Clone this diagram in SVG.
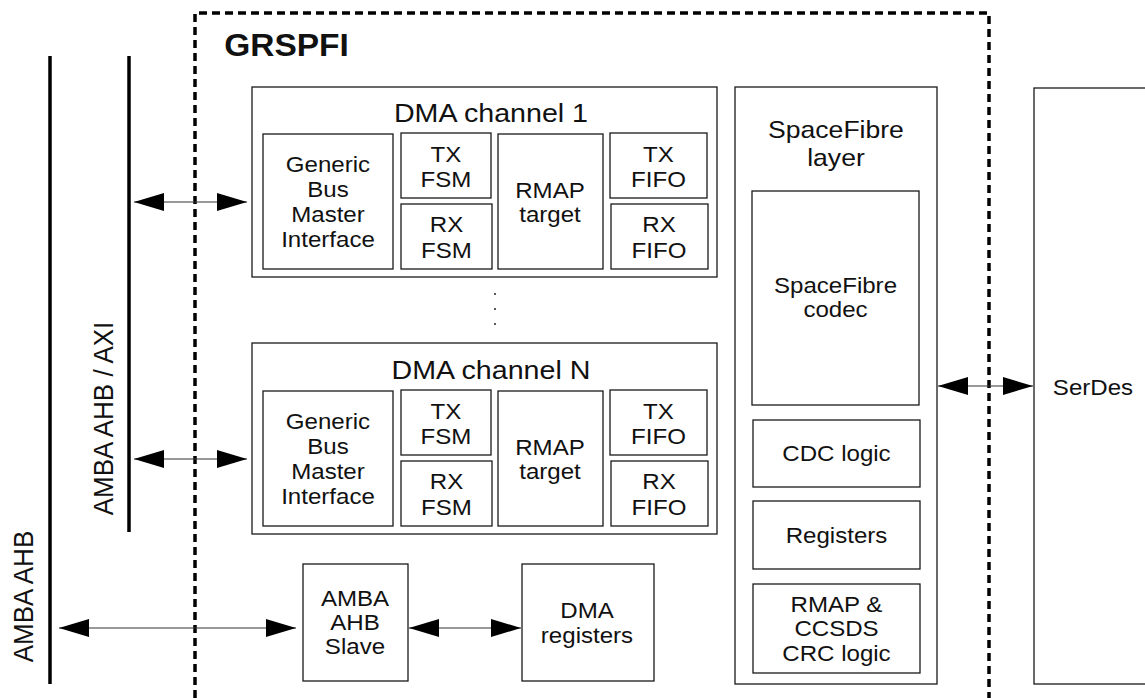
<svg xmlns="http://www.w3.org/2000/svg" width="1145" height="698" viewBox="0 0 1145 698">
<style>
.box { fill: #fff; stroke: #1a1a1a; stroke-width: 1.3; }
.t { font-family: "Liberation Sans", Arial, sans-serif; font-size: 22.3px; text-anchor: middle; fill: #111; transform-box: fill-box; transform-origin: center; transform: scaleX(1.08); }
.title { font-size: 26.5px; }
.sft { font-size: 24.6px; }
.bold { font-weight: bold; font-size: 31px; }
.rt { font-family: "Liberation Sans", Arial, sans-serif; font-size: 26px; text-anchor: middle; fill: #111; }
.bus { stroke: #000; stroke-width: 3.5; fill: none; }
.border { stroke: #000; stroke-width: 3.5; fill: none; stroke-dasharray: 8 5; }
.conn { stroke: #333; stroke-width: 1.2; fill: none; marker-start: url(#ah); marker-end: url(#ah); }
.dot { fill: #222; }
</style>
<defs>
<marker id="ah" markerUnits="userSpaceOnUse" markerWidth="30" markerHeight="18" refX="30" refY="9" orient="auto-start-reverse" viewBox="0 0 30 18">
<path d="M0,0 L30,9 L0,18 z" fill="#000"/>
</marker>
</defs>
<rect width="1145" height="698" fill="#fff"/>

<g id="grspfi">
<path class="border" d="M195,698 L195,13 L989,13 L989,698"/>
<text class="t bold" x="286.5" y="56">GRSPFI</text>
</g>

<g id="bus-ahb">
<line class="bus" x1="50" y1="56" x2="50" y2="684"/>
<text class="rt" transform="translate(33,596.5) scale(1.08,1) rotate(-90)" x="0" y="0">AMBA AHB</text>
</g>
<g id="bus-ahb-axi">
<line class="bus" x1="129" y1="56" x2="129" y2="532"/>
<text class="rt" transform="translate(113,418.5) scale(1.08,1) rotate(-90)" x="0" y="0">AMBA AHB / AXI</text>
</g>

<g id="dma-ch1">
<rect class="box" x="252" y="87" width="465" height="190"/>
<text class="t title" x="491" y="122">DMA channel 1</text>
<g id="ch1-gbm">
<rect class="box" x="263" y="134" width="130" height="135"/>
<text class="t"><tspan x="328" y="172">Generic</tspan><tspan x="328" y="197">Bus</tspan><tspan x="328" y="222">Master</tspan><tspan x="328" y="247">Interface</tspan></text>
</g>
<g id="ch1-txfsm">
<rect class="box" x="401" y="133" width="90" height="65"/>
<text class="t"><tspan x="446" y="162">TX</tspan><tspan x="446" y="187">FSM</tspan></text>
</g>
<g id="ch1-rxfsm">
<rect class="box" x="401" y="204" width="91" height="65"/>
<text class="t"><tspan x="446.5" y="232">RX</tspan><tspan x="446.5" y="258">FSM</tspan></text>
</g>
<g id="ch1-rmap">
<rect class="box" x="498" y="134" width="105" height="135"/>
<text class="t"><tspan x="550" y="198">RMAP</tspan><tspan x="550" y="222">target</tspan></text>
</g>
<g id="ch1-txfifo">
<rect class="box" x="610" y="133" width="97" height="65"/>
<text class="t"><tspan x="658.5" y="162">TX</tspan><tspan x="658.5" y="187">FIFO</tspan></text>
</g>
<g id="ch1-rxfifo">
<rect class="box" x="611" y="204" width="97" height="65"/>
<text class="t"><tspan x="659" y="232">RX</tspan><tspan x="659" y="258">FIFO</tspan></text>
</g>
</g>

<g id="dots">
<circle class="dot" cx="495" cy="294" r="1"/>
<circle class="dot" cx="495" cy="309" r="1"/>
<circle class="dot" cx="495" cy="324" r="1"/>
</g>

<g id="dma-chN">
<rect class="box" x="252" y="343" width="465" height="191"/>
<text class="t title" x="491" y="379">DMA channel N</text>
<g id="chN-gbm">
<rect class="box" x="263" y="391" width="130" height="135"/>
<text class="t"><tspan x="328" y="429">Generic</tspan><tspan x="328" y="454">Bus</tspan><tspan x="328" y="479">Master</tspan><tspan x="328" y="504">Interface</tspan></text>
</g>
<g id="chN-txfsm">
<rect class="box" x="401" y="390" width="90" height="65"/>
<text class="t"><tspan x="446" y="419">TX</tspan><tspan x="446" y="444">FSM</tspan></text>
</g>
<g id="chN-rxfsm">
<rect class="box" x="401" y="461" width="91" height="65"/>
<text class="t"><tspan x="446.5" y="489">RX</tspan><tspan x="446.5" y="515">FSM</tspan></text>
</g>
<g id="chN-rmap">
<rect class="box" x="498" y="391" width="105" height="135"/>
<text class="t"><tspan x="550" y="455">RMAP</tspan><tspan x="550" y="479">target</tspan></text>
</g>
<g id="chN-txfifo">
<rect class="box" x="610" y="390" width="97" height="65"/>
<text class="t"><tspan x="658.5" y="419">TX</tspan><tspan x="658.5" y="444">FIFO</tspan></text>
</g>
<g id="chN-rxfifo">
<rect class="box" x="611" y="461" width="97" height="65"/>
<text class="t"><tspan x="659" y="489">RX</tspan><tspan x="659" y="515">FIFO</tspan></text>
</g>
</g>

<g id="ahb-slave">
<rect class="box" x="303" y="564" width="105" height="117"/>
<text class="t"><tspan x="355" y="606">AMBA</tspan><tspan x="355" y="630">AHB</tspan><tspan x="355" y="654">Slave</tspan></text>
</g>

<g id="dma-registers">
<rect class="box" x="522" y="564" width="132" height="117"/>
<text class="t"><tspan x="587" y="618">DMA</tspan><tspan x="587" y="643">registers</tspan></text>
</g>

<g id="spacefibre-layer">
<rect class="box" x="735" y="87" width="202" height="597"/>
<text class="t sft"><tspan x="836" y="138">SpaceFibre</tspan><tspan x="836" y="166">layer</tspan></text>
<g id="sf-codec">
<rect class="box" x="752" y="191" width="167" height="214"/>
<text class="t"><tspan x="835.5" y="293">SpaceFibre</tspan><tspan x="835.5" y="317">codec</tspan></text>
</g>
<g id="cdc-logic">
<rect class="box" x="753" y="420" width="167" height="67"/>
<text class="t" x="836.5" y="461">CDC logic</text>
</g>
<g id="registers">
<rect class="box" x="753" y="501" width="167" height="68"/>
<text class="t" x="836.5" y="543">Registers</text>
</g>
<g id="crc-logic">
<rect class="box" x="753" y="584" width="167" height="89"/>
<text class="t"><tspan x="836.5" y="612">RMAP &amp;</tspan><tspan x="836.5" y="636">CCSDS</tspan><tspan x="836.5" y="661">CRC logic</tspan></text>
</g>
</g>

<g id="serdes">
<rect class="box" x="1034" y="88" width="130" height="596"/>
<text class="t" x="1093" y="395">SerDes</text>
</g>

<g id="connectors">
<line class="conn" x1="134" y1="202" x2="247" y2="202"/>
<line class="conn" x1="134" y1="459" x2="247" y2="459"/>
<line class="conn" x1="59" y1="628" x2="296" y2="628"/>
<line class="conn" x1="409" y1="628" x2="521" y2="628"/>
<line class="conn" x1="938" y1="386" x2="1033" y2="386"/>
</g>
</svg>
